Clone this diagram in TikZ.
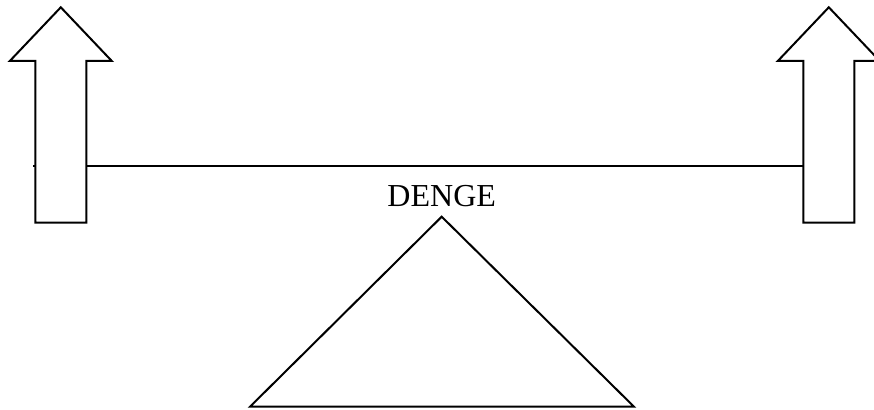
\documentclass[tikz,border=0pt]{standalone}
\usepackage{fontspec}
\setmainfont{Liberation Serif}
\usetikzlibrary{positioning}

\begin{document}
\begin{tikzpicture}[x=0.75pt, y=-0.75pt,
  thin line/.style={draw=black, line width=1.5pt},
  lift/.style={thin line, fill=white, line join=miter},
  label/.style={font=\fontsize{24}{28}\selectfont, inner sep=0pt}]
\useasboundingbox (0,0) rectangle (874,410);
% beam
\coordinate (beamL) at (33,166);
\coordinate (beamR) at (803.3,166);
\draw[thin line] (beamL) -- (beamR);
% up arrows at both ends
\foreach \cx in {60.8, 828.8}
  \draw[lift] (\cx-25.5,222.7) -- (\cx-25.5,61) -- (\cx-51,61) -- (\cx,7.3)
    -- (\cx+51,61) -- (\cx+25.5,61) -- (\cx+25.5,222.7) -- cycle;
% fulcrum
\coordinate (apex) at (441.7,216.7);
\node[label, above=7pt of apex] (denge) {DENGE};
\draw[thin line, line join=miter] (apex) -- (634,406.7) -- (250,406.7) -- cycle;
\end{tikzpicture}
\end{document}
